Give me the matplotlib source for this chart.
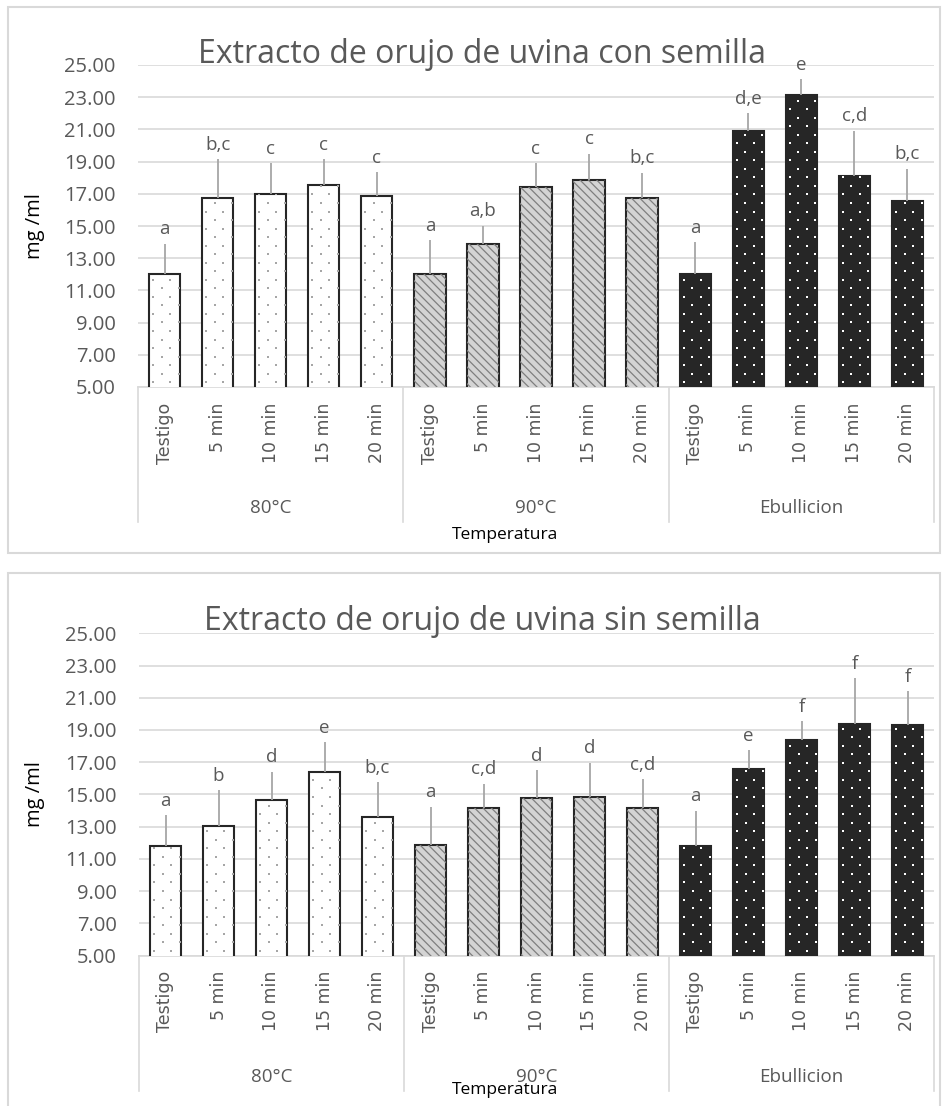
import numpy as np
import matplotlib.pyplot as plt
from matplotlib.patches import Rectangle
from matplotlib.lines import Line2D

plt.rcParams['font.family'] = ['Open Sans', 'DejaVu Sans']
plt.rcParams['hatch.linewidth'] = 0.9

categories = ["Testigo", "5 min", "10 min", "15 min", "20 min"]
groups = ["80°C", "90°C", "Ebullicion"]

con_semilla_vals = [12.0, 16.75, 17.0, 17.55, 16.85,
                    12.0, 13.9, 17.45, 17.85, 16.75,
                    12.0, 20.9, 23.15, 18.1, 16.55]
con_semilla_err = [1.9, 2.4, 1.9, 1.6, 1.5,
                   2.1, 1.1, 1.45, 1.65, 1.55,
                   2.0, 1.1, 0.95, 2.8, 2.0]
con_semilla_letters = ["a", "b,c", "c", "c", "c",
                       "a", "a,b", "c", "c", "b,c",
                       "a", "d,e", "e", "c,d", "b,c"]

sin_semilla_vals = [11.8, 13.05, 14.65, 16.4, 13.6,
                    11.85, 14.15, 14.8, 14.85, 14.15,
                    11.8, 16.6, 18.35, 19.4, 19.3]
sin_semilla_err = [1.9, 2.2, 1.75, 1.85, 2.15,
                   2.4, 1.5, 1.7, 2.1, 1.8,
                   2.2, 1.15, 1.2, 2.8, 2.1]
sin_semilla_letters = ["a", "b", "d", "e", "b,c",
                       "a", "c,d", "d", "d", "c,d",
                       "a", "e", "f", "f", "f"]

TEXT = '#595959'
GRID = '#d9d9d9'

# fill, hatch, dot colour for each temperature group
group_styles = [
    ('white', None, '#a6a6a6'),
    ('#d4d4d4', '\\\\\\\\', None),
    ('#262626', None, 'white'),
]

W, H = 942, 1106


def add_dots(ax, bars, color):
    # small staggered dot texture, clipped to each bar
    for b in bars:
        x0, w, h = b.get_x(), b.get_width(), b.get_height()
        px, py = [], []
        for i, yy in enumerate(np.arange(5.3, h, 0.53)):
            off = 0.08 if i % 2 == 0 else 0.24
            for xx in np.arange(x0 + off, x0 + w, 0.32):
                px.append(xx)
                py.append(yy)
        sc = ax.scatter(px, py, s=2.2, marker='s', color=color,
                        linewidths=0, zorder=3.6)
        sc.set_clip_path(b)


def draw_chart(ax, vals, errs, letters, title, title_base, temp_y):
    n = len(categories)
    x = np.arange(len(vals))

    for g, (face, hatch, dot) in enumerate(group_styles):
        sl = slice(g * n, (g + 1) * n)
        bars = ax.bar(x[sl], vals[sl], width=0.59, bottom=0, color=face,
                      edgecolor='#262626', linewidth=1.5, zorder=3)
        if hatch:
            ax.bar(x[sl], vals[sl], width=0.59, bottom=0, fill=False,
                   hatch=hatch, edgecolor='#7f7f7f', linewidth=0, zorder=3.5)
        if dot:
            add_dots(ax, bars, dot)

    ax.errorbar(x, vals, yerr=[np.zeros(len(errs)), errs], fmt='none',
                ecolor='#a6a6a6', elinewidth=1.3, capsize=0, zorder=4)

    for xi, v, e, lab in zip(x, vals, errs, letters):
        ax.annotate(lab, (xi, v + e), xytext=(0, 4), textcoords='offset points',
                    ha='center', va='bottom', fontsize=13.5, color=TEXT)

    ax.set_ylim(5, 25)
    ax.set_xlim(-0.5, len(vals) - 0.5)
    ax.set_yticks(np.arange(5, 26, 2))
    ax.set_yticklabels([f"{t:.2f}" for t in np.arange(5, 26, 2)])
    ax.yaxis.grid(True, color=GRID, linewidth=1.2)
    ax.set_axisbelow(True)
    for s in ax.spines.values():
        s.set_visible(False)
    ax.tick_params(axis='y', length=0, pad=16, labelsize=14.5, labelcolor=TEXT)

    ax.set_xticks(x)
    ax.set_xticklabels(categories * len(groups), rotation=90,
                       family='DejaVu Sans', fontsize=12.5, color=TEXT)
    ax.tick_params(axis='x', length=0, pad=11)

    ax.axhline(5, color=GRID, linewidth=1.2, clip_on=False, zorder=1)

    # group separators below the category axis
    tr = ax.get_xaxis_transform()
    for b in np.arange(len(groups) + 1) * n - 0.5:
        ax.add_line(Line2D([b, b], [0, -0.42], transform=tr, color=GRID,
                           linewidth=1.2, clip_on=False))
    for g, name in enumerate(groups):
        ax.text(g * n + (n - 1) / 2, -0.376, name, transform=tr,
                ha='center', va='center', fontsize=13.5, color=TEXT)

    fig.text(505 / W, 1 - temp_y / H, "Temperatura", ha='center',
             va='center', fontsize=12.5, color='black')
    fig.text(482 / W, 1 - title_base / H, title, ha='center',
             va='baseline', fontsize=23, color=TEXT)

    pos = ax.get_position()
    fig.text(35 / W, pos.y0 + pos.height / 2, "mg /ml", rotation=90,
             ha='center', va='center', fontsize=14.5, color='black')


fig = plt.figure(figsize=(W / 100, H / 100), dpi=100)

fig.add_artist(Rectangle((8 / W, 1 - 553 / H), 932 / W, 546 / H,
                         transform=fig.transFigure, fill=False,
                         edgecolor=GRID, linewidth=1.5))
fig.add_artist(Rectangle((8 / W, -0.02), 932 / W, 1 - 573 / H + 0.02,
                         transform=fig.transFigure, fill=False,
                         edgecolor=GRID, linewidth=1.5))

ax_top = fig.add_axes([138 / W, 1 - 387 / H, 796 / W, 322 / H])
draw_chart(ax_top, con_semilla_vals, con_semilla_err, con_semilla_letters,
           "Extracto de orujo de uvina con semilla", 63, 535)

ax_bot = fig.add_axes([139 / W, 1 - 955.6 / H, 795 / W, 322.3 / H])
draw_chart(ax_bot, sin_semilla_vals, sin_semilla_err, sin_semilla_letters,
           "Extracto de orujo de uvina sin semilla", 630, 1090)

fig.savefig('out.png', dpi=100)
